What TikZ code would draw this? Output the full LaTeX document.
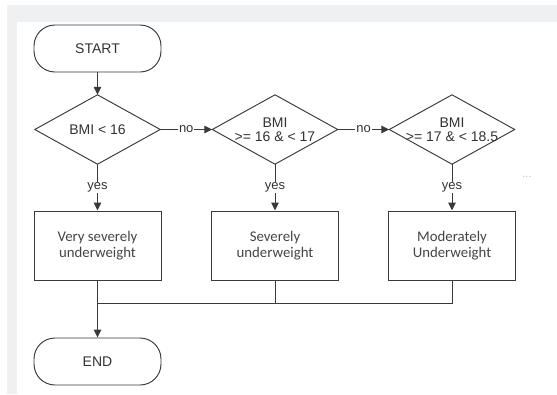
\documentclass[tikz,border=0pt]{standalone}
\usepackage{fontspec}
\setmainfont{Liberation Sans}
\newfontfamily\carlitofont{Carlito}
\usetikzlibrary{arrows.meta}
\definecolor{bggray}{HTML}{EFF0F2}
\definecolor{linec}{HTML}{3A3A3A}
\definecolor{txtc}{HTML}{333333}
\definecolor{boxtxt}{HTML}{454545}
\begin{document}
\begin{tikzpicture}[x=1pt,y=-1pt,
  every node/.style={text=txtc},
  conn/.style={draw=linec,line width=0.95pt},
  arr/.style={conn,-{Triangle[length=8pt,width=7.5pt]}},
  terminal/.style={draw=linec,line width=0.95pt,rectangle,rounded corners=21pt,minimum width=127pt,minimum height=47pt,inner sep=0pt,font=\fontsize{14}{15}\selectfont},
  decision/.style={rectangle,minimum width=125pt,minimum height=69pt,inner sep=0pt,align=center,font=\fontsize{14}{14}\selectfont},
  procbox/.style={draw=linec,line width=0.95pt,rectangle,minimum width=127pt,minimum height=69pt,inner sep=0pt,align=center,text=boxtxt,font=\carlitofont\fontsize{14.8}{15.7}\selectfont},
  lbl/.style={fill=white,inner sep=1pt,font=\fontsize{13}{13}\selectfont},
]
\useasboundingbox (0,0) rectangle (557,394);
\fill[white] (0,0) rectangle (557,394);
\fill[bggray] (7,5) rectangle (557,22);
\fill[bggray] (7,22) rectangle (17,394);

\node[terminal] (start) at (97.5,48.5) {START};
\node[decision] (d1) at (97.5,129.5) {BMI < 16};
\node[decision] (d2) at (275,129.5) {BMI\\>= 16 \& < 17};
\node[decision] (d3) at (452,129.5) {BMI\\>= 17 \& < 18.5};
\foreach \n in {d1,d2,d3}{
  \draw[conn,line join=miter] (\n.north) -- (\n.east) -- (\n.south) -- (\n.west) -- cycle;
}
\node[procbox] (b1) at (97.5,245.5) {Very severely\\underweight};
\node[procbox] (b2) at (275,245.5) {Severely\\underweight};
\node[procbox] (b3) at (452,245.5) {Moderately\\Underweight};
\node[terminal] (end) at (97.5,361.5) {END};
\node[text=gray!50,font=\fontsize{11}{11}\selectfont] (dots) at (527,177) {...};

\draw[arr] (start) -- (d1.north);
\draw[arr] (d1.east) -- node[lbl] {no} (d2.west);
\draw[arr] (d2.east) -- node[lbl] {no} (d3.west);
\draw[arr] (d1.south) -- node[lbl] {yes} (b1.north);
\draw[arr] (d2.south) -- node[lbl] {yes} (b2.north);
\draw[arr] (d3.south) -- node[lbl] {yes} (b3.north);
\coordinate (m1) at (97.5,303);
\draw[conn] (b1.south) -- (m1);
\draw[conn] (b3.south) |- (m1);
\draw[conn] (b2.south) -- (b2.south |- m1);
\draw[arr] (m1) -- (end.north);
\end{tikzpicture}
\end{document}
